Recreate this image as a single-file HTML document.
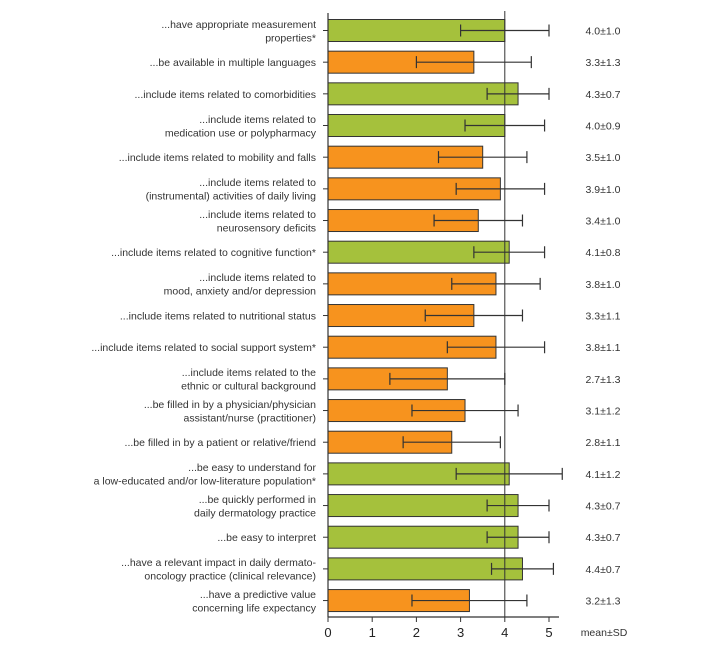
<!DOCTYPE html>
<html><head><meta charset="utf-8"><style>
body{margin:0;background:#fff;width:709px;height:647px;overflow:hidden}
svg{font-family:"Liberation Sans",Arial,sans-serif}
</style></head><body>
<svg id="chart" width="709" height="647" xmlns="http://www.w3.org/2000/svg"></svg>
<script>
const labels=[
["...have appropriate measurement","properties*"],
["...be available in multiple languages"],
["...include items related to comorbidities"],
["...include items related to","medication use or polypharmacy"],
["...include items related to mobility and falls"],
["...include items related to","(instrumental) activities of daily living"],
["...include items related to","neurosensory  deficits"],
["...include items related to cognitive function*"],
["...include items related to","mood, anxiety and/or depression"],
["...include items related to nutritional status"],
["...include items related to social support system*"],
["...include items related to the","ethnic or cultural background"],
["...be filled in by a physician/physician","assistant/nurse (practitioner)"],
["...be filled in by a patient or relative/friend"],
["...be easy to understand for","a low-educated and/or low-literature population*"],
["...be quickly performed in","daily dermatology practice"],
["...be easy to interpret"],
["...have a relevant impact in daily dermato-","oncology practice (clinical relevance)"],
["...have a predictive value","concerning life expectancy"]];
const means=[4.0,3.3,4.3,4.0,3.5,3.9,3.4,4.1,3.8,3.3,3.8,2.7,3.1,2.8,4.1,4.3,4.3,4.4,3.2];
const sds=[1.0,1.3,0.7,0.9,1.0,1.0,1.0,0.8,1.0,1.1,1.1,1.3,1.2,1.1,1.2,0.7,0.7,0.7,1.3];
const green=[1,0,1,1,0,0,0,1,0,0,0,0,0,0,1,1,1,1,0];
const ticks=[0,1,2,3,4,5];
const NS="http://www.w3.org/2000/svg",svg=document.getElementById('chart');
const X=v=>328+v*44.2, Y=i=>30.5+i*31.67;
function mk(t,a,txt){const e=document.createElementNS(NS,t);for(const k in a)e.setAttribute(k,a[k]);if(txt!=null)e.textContent=txt;svg.appendChild(e);return e;}
means.forEach((m,i)=>{
 const y=Y(i);
 const b=mk('rect',{x:X(0),y:y-11,width:X(m)-X(0),height:22,fill:green[i]?'#a5c13c':'#f7931e',stroke:'#333','stroke-width':1});
 
 
 const lo=X(m-sds[i]),hi=X(m+sds[i]);
 const eb=mk('path',{d:`M${lo},${y}H${hi}M${lo},${y-6}V${y+6}M${hi},${y-6}V${y+6}`,stroke:'#333','stroke-width':1.2,fill:'none'});
 
 
 mk('line',{x1:X(0)-5,x2:X(0),y1:y,y2:y,stroke:'#333'});
 const L=labels[i];
 L.forEach((s,j)=>{
  const t=mk('text',{x:316,y:y+4+(j-(L.length-1)/2)*13.5,'text-anchor':'end','font-size':10.5,fill:'#333'},s);
  
  
 });
 const v=mk('text',{x:603,y:y+4,'text-anchor':'middle','font-size':10.5,fill:'#333'},m.toFixed(1)+'±'+sds[i].toFixed(1));
 
 
});
const ref=mk('line',{x1:X(4),x2:X(4),y1:11,y2:617,stroke:'#333','stroke-width':1});


const ya=mk('line',{x1:X(0),x2:X(0),y1:13,y2:617,stroke:'#333','stroke-width':1.2});


const xa=mk('line',{x1:X(0),x2:559,y1:617,y2:617,stroke:'#333','stroke-width':1.2});


ticks.forEach(v=>{
 mk('line',{x1:X(v),x2:X(v),y1:617,y2:622,stroke:'#333'});
 const t=mk('text',{x:X(v),y:637,'text-anchor':'middle','font-size':13,fill:'#222'},String(v));
 
 
});
const ms=mk('text',{x:604,y:636,'text-anchor':'middle','font-size':10.5,fill:'#333'},'mean±SD');


</script>
</body></html>
